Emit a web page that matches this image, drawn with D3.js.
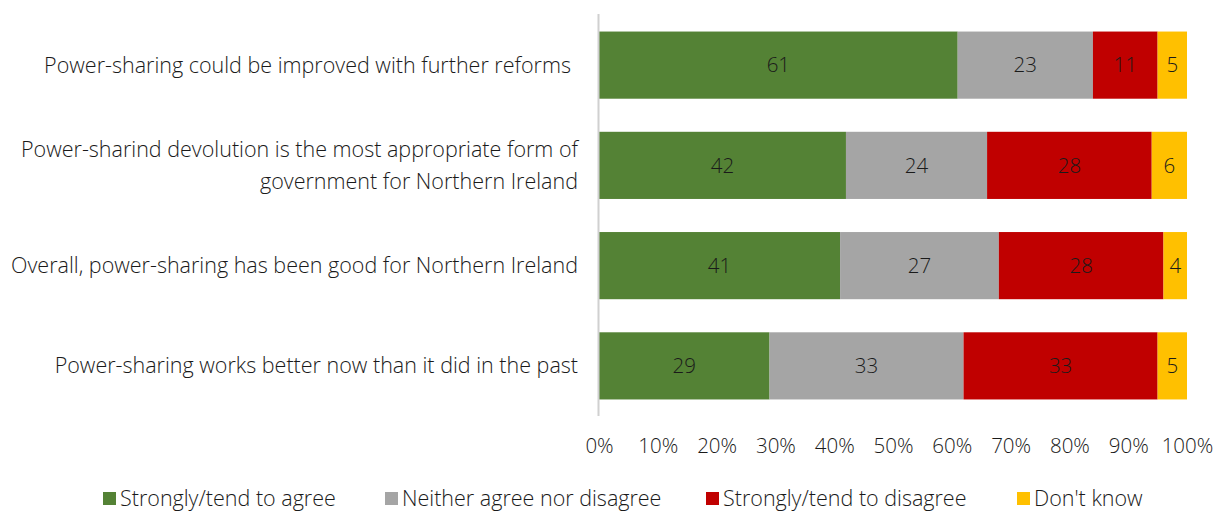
<!DOCTYPE html>
<html>
<head>
<meta charset="utf-8">
<script src="https://cdn.jsdelivr.net/npm/d3@7/dist/d3.min.js"></script>
<style>
  html, body { margin: 0; padding: 0; background: #fff; }
  svg { display: block; font-family: "Open Sans", "Noto Sans", sans-serif; font-weight: 300; }
</style>
</head>
<body>
<svg id="chart" width="1216" height="511"></svg>
<script>
// Survey statements (top to bottom)
const categories = [
  "Power-sharing could be improved with further reforms",
  "Power-sharind devolution is the most appropriate form of|government for Northern Ireland",
  "Overall, power-sharing has been good for Northern Ireland",
  "Power-sharing works better now than it did in the past"
];
const seriesNames = ["Strongly/tend to agree", "Neither agree nor disagree", "Strongly/tend to disagree", "Don't know"];
const agree    = [61, 42, 41, 29];
const neither  = [23, 24, 27, 33];
const disagree = [11, 28, 28, 33];
const dontKnow = [5, 6, 4, 5];
const tickValues = [0, 10, 20, 30, 40, 50, 60, 70, 80, 90, 100];
const colors = ["#548235", "#A5A5A5", "#C00000", "#FFC000"];

const seriesValues = [agree, neither, disagree, dontKnow];
const rows = categories.map((c, i) => {
  const r = { cat: c };
  seriesNames.forEach((s, j) => { r[s] = seriesValues[j][i]; });
  return r;
});

const svg = d3.select("#chart");
const x = d3.scaleLinear().domain([0, 100]).range([599, 1187]);
const y = d3.scaleBand().domain(categories).range([15, 416]).paddingInner(0.33).paddingOuter(0.165);

const stack = d3.stack().keys(seriesNames);
const layers = stack(rows);

const g = svg.append("g");
layers.forEach((layer, j) => {
  const lg = g.append("g");
  lg.selectAll("rect").data(layer).join("rect")
    .attr("x", d => x(d[0]))
    .attr("width", d => x(d[1]) - x(d[0]))
    .attr("y", d => y(d.data.cat))
    .attr("height", y.bandwidth())
    .attr("fill", colors[j]);
  lg.selectAll("text").data(layer).join("text")
    .attr("x", d => (x(d[0]) + x(d[1])) / 2)
    .attr("y", d => y(d.data.cat) + y.bandwidth() / 2)
    .attr("dy", "0.35em")
    .attr("text-anchor", "middle")
    .attr("font-size", 20.5)
    .attr("fill", "#1a1a1a")
    .text(d => d[1] - d[0]);
});

// vertical category axis line
svg.append("line")
  .attr("x1", 598.5).attr("x2", 598.5)
  .attr("y1", 14).attr("y2", 416)
  .attr("stroke", "#d0d0d0").attr("stroke-width", 2);

// category labels (first one wraps narrower, so it sits a little further left)
const labelRight = [571, 578, 578, 578];
categories.forEach((c, i) => {
  const lines = c.split("|");
  const cy = y(c) + y.bandwidth() / 2;
  const lh = 32;
  const t = svg.append("text")
    .attr("text-anchor", "end")
    .attr("font-size", 21.5)
    .attr("fill", "#1a1a1a");
  lines.forEach((ln, k) => {
    t.append("tspan")
      .attr("x", labelRight[i])
      .attr("y", cy + (k - (lines.length - 1) / 2) * lh)
      .attr("dy", "0.35em")
      .text(ln);
  });
});

// percentage axis
const xAxis = d3.axisBottom(x).tickValues(tickValues).tickFormat(d => d + "%").tickSize(0).tickPadding(0);
const ax = svg.append("g").attr("transform", "translate(0,446)").call(xAxis);
ax.select(".domain").remove();
ax.selectAll("text")
  .attr("font-size", 20.5)
  .attr("font-family", "Open Sans, Noto Sans, sans-serif")
  .attr("font-weight", 300)
  .attr("fill", "#1a1a1a")
  .attr("dy", "0.35em")
  .attr("y", 0);

// legend
const legendX = [103, 385, 706, 1017];
const legend = svg.append("g");
seriesNames.forEach((s, j) => {
  legend.append("rect")
    .attr("x", legendX[j]).attr("y", 492)
    .attr("width", 13).attr("height", 13)
    .attr("fill", colors[j]);
  legend.append("text")
    .attr("x", legendX[j] + 17).attr("y", 498)
    .attr("dy", "0.35em")
    .attr("font-size", 21.5)
    .attr("fill", "#1a1a1a")
    .text(s);
});
</script>
</body>
</html>
